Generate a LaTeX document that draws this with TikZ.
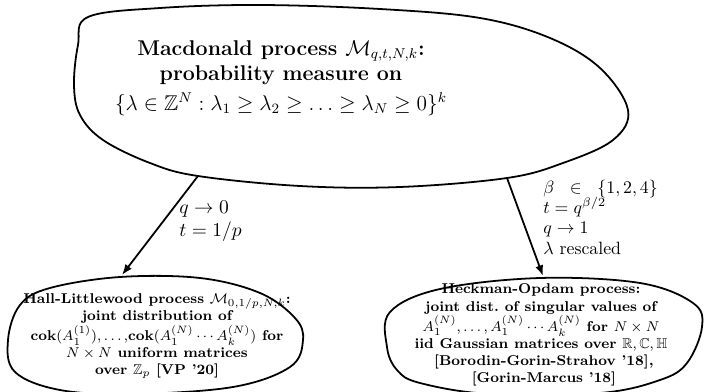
\documentclass[tikz,border=0pt]{standalone}
\usepackage{amsmath,amssymb}
\usetikzlibrary{arrows.meta, positioning}

\begin{document}
\begin{tikzpicture}[x=0.562pt, y=-0.562pt, >={Latex[length=6pt,width=4.5pt]},
    blob/.style={line width=1pt},
    conn/.style={->, line width=1pt},
    proc/.style={align=center, font=\fontsize{8}{9.6}\selectfont\bfseries, inner sep=0pt},
    cond/.style={align=left, anchor=west, inner sep=0pt}]
\useasboundingbox (0,0) rectangle (704,392);

% === Proceso de Macdonald (arriba) ===
\draw[blob] plot[smooth cycle, tension=0.6] coordinates {
    (88,17) (160,8) (260,5) (380,9) (480,18) (550,38) (600,68) (628,110)
    (613,140) (563,163) (507,178) (400,187) (300,186) (198,176) (150,163)
    (103,140) (80,115) (74,85) (78,45)};
\node[align=center, inner sep=0pt, font=\large] (mac) at (281,78)
    {\textbf{Macdonald process $\mathcal{M}_{q,t,N,k}$:}\\
     \textbf{probability measure on}\\[3pt]
     $\{\lambda\in\mathbb{Z}^N:\lambda_1\geq\lambda_2\geq\ldots\geq\lambda_N\geq 0\}^k$};

% Puntos de salida de las flechas
\coordinate (mac-l) at (198,176);
\coordinate (mac-r) at (507,178);

% === Hall-Littlewood (abajo izquierda) ===
\draw[blob] plot[smooth cycle, tension=0.6] coordinates {
    (20,305) (50,288) (120,277) (200,278) (260,293) (295,318) (303,340)
    (290,367) (233,387) (133,394) (60,390) (15,372) (8,340)};
\node[proc] (hl) at (157,336)
    {Hall-Littlewood process $\mathcal{M}_{0,1/p,N,k}$:\\
     joint distribution of\\
     cok$(A_1^{(1)}),\ldots,$cok$(A_1^{(N)}\cdots A_k^{(N)})$ for\\
     $N\times N$ uniform matrices\\
     over $\mathbb{Z}_p$ [VP '20]};
\coordinate (hl-top) at (122,275);

% === Heckman-Opdam (abajo derecha) ===
\draw[blob] plot[smooth cycle, tension=0.6] coordinates {
    (390,312) (440,289) (540,278) (640,283) (693,303) (702,327)
    (687,363) (660,380) (600,393) (490,394) (420,383) (397,370) (387,347)};
\node[proc] (ho) at (541,335)
    {Heckman-Opdam process:\\
     joint dist.\ of singular values of\\
     $A_1^{(N)},\ldots,A_1^{(N)}\cdots A_k^{(N)}$ for $N\times N$\\
     iid Gaussian matrices over $\mathbb{R},\mathbb{C},\mathbb{H}$\\{}
     [Borodin-Gorin-Strahov '18],\\{}
     [Gorin-Marcus '18]};
\coordinate (ho-top) at (543,276);

% === Flechas ===
\draw[conn] (mac-l) -- (hl-top);
\node[cond, font=\fontsize{11}{13}\selectfont] (lim-hl) at (179,221)
    {$q\to 0$\\ $t=1/p$};

\draw[conn] (mac-r) -- (ho-top);
\node[cond, font=\fontsize{10}{11.4}\selectfont] (lim-ho) at (543,217)
    {$\beta\hspace{6pt}\in\hspace{6pt}\{1,2,4\}$\\
     $t=q^{\beta/2}$\\
     $q\to 1$\\
     $\lambda$ rescaled};

\end{tikzpicture}
\end{document}
